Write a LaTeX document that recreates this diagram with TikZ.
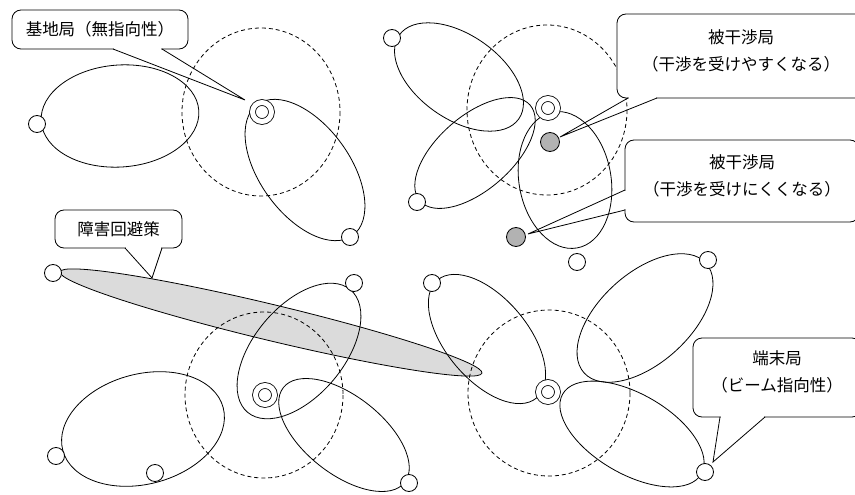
\documentclass[tikz,border=0pt]{standalone}
\usepackage{fontspec}
\newfontfamily\jpfont{Noto Sans CJK JP}
\usetikzlibrary{calc}

\begin{document}
\begin{tikzpicture}[
    x=1pt, y=-1pt,
    halo/.style={line width=0.8pt, dash pattern=on 4pt off 3pt},
    beam/.style={line width=0.8pt},
    obst/.style={line width=0.8pt, fill=black!14},
    base/.style={circle, draw, fill=white, line width=0.8pt, minimum size=19pt, inner sep=0pt, double, double distance=5pt},
    term/.style={circle, draw, fill=white, line width=0.8pt, minimum size=17pt, inner sep=0pt},
    victim/.style={term, fill=black!30, minimum size=19pt},
    callout/.style={draw, fill=white, line width=0.8pt, rounded corners=9pt, align=center, inner sep=0pt, outer sep=0pt, font=\jpfont\fontsize{16.5}{27}\selectfont},
    twoline/.style={callout, text depth=12pt},
    gap/.style={fill=white},
    ptr/.style={draw, line width=0.8pt, line join=miter}
]
\useasboundingbox (0,0) rectangle (855,495);
\clip (0,0) rectangle (855,495);

% --- obstacle (drawn first, beams run over it) ---
\draw[obst, rotate around={-13.5:(271,322.5)}] (271,322.5) ellipse [x radius=217, y radius=18];
\coordinate (obstip) at (152,278);

% --- omni coverage of the base stations ---
\draw[halo] (261,112) ellipse [x radius=79, y radius=84];
\draw[halo] (547,110) ellipse [x radius=80, y radius=85];
\draw[halo] (264,395) ellipse [x radius=79, y radius=83];
\draw[halo] (549,393) ellipse [x radius=81, y radius=83];

% --- beams, top left ---
\draw[beam, rotate around={4:(120,116)}] (120,116) ellipse [x radius=79, y radius=51];
\draw[beam, rotate around={-54:(305,170)}] (305,170) ellipse [x radius=81, y radius=45];

% --- beams, top right ---
\draw[beam, rotate around={-35:(459,77)}] (459,77) ellipse [x radius=73, y radius=42];
\draw[beam, rotate around={41:(475,153)}] (475,153) ellipse [x radius=73, y radius=37];
\draw[beam, rotate around={-80:(565,180)}] (565,180) ellipse [x radius=69, y radius=46];

% --- beams, bottom left ---
\draw[beam, rotate around={50:(299,351)}] (299,351) ellipse [x radius=80, y radius=45];
\draw[beam, rotate around={-38:(344,435)}] (344,435) ellipse [x radius=77, y radius=39];
\draw[beam, rotate around={15:(143,429)}] (143,429) ellipse [x radius=83, y radius=55];

% --- beams, bottom right ---
\draw[beam, rotate around={-50:(487,339)}] (487,339) ellipse [x radius=77, y radius=41];
\draw[beam, rotate around={42:(645,318)}] (645,318) ellipse [x radius=82, y radius=45];
\draw[beam, rotate around={-30:(632,434)}] (632,434) ellipse [x radius=80, y radius=40];

% --- base stations ---
\node[base] (bs1) at (262,112) {};
\node[base] (bs2) at (548,108) {};
\node[base] (bs3) at (265,395) {};
\node[base] (bs4) at (548,392) {};

% --- terminals ---
\node[term] (tm1)  at (37,124)  {};
\node[term] (tm2)  at (350,237) {};
\node[term] (tm3)  at (392,38)  {};
\node[term] (tm4)  at (417,202) {};
\node[term] (tm5)  at (577,262) {};
\node[term] (tm6)  at (354,283) {};
\node[term] (tm7)  at (409,483) {};
\node[term] (tm8)  at (56,456)  {};
\node[term] (tm9)  at (155,473) {};
\node[term] (tm10) at (53,273)  {};
\node[term] (tm11) at (432,283) {};
\node[term] (tm12) at (708,260) {};
\node[term] (tm13) at (705,472) {};

% --- interfered stations ---
\node[victim] (vic1) at (550,142) {};
\node[victim] (vic2) at (516,237) {};

% === callouts ===
\node[callout, minimum width=176, minimum height=39] (kichi) at (100,29.5) {基地局（無指向性）};
\node[callout, minimum width=127, minimum height=38] (shogai) at (118.5,229) {障害回避策};
\node[twoline, minimum width=248, minimum height=84] (hikan1) at (741,56) {被干渉局\\（干渉を受けやすくなる）};
\node[twoline, minimum width=234, minimum height=82] (hikan2) at (742,181) {被干渉局\\（干渉を受けにくくなる）};
\node[twoline, minimum width=168, minimum height=79] (tanmatsu) at (777,377.5) {端末局\\（ビーム指向性）};

% pointer: base station
\fill[gap] ([xshift=13.6pt,yshift=1.5pt]kichi.south) rectangle ([xshift=61.4pt,yshift=-1pt]kichi.south);
\draw[ptr] ([xshift=13pt]kichi.south) -- ([shift={(-17,-12)}]bs1.center) -- ([xshift=62pt]kichi.south);

% pointer: obstacle
\fill[gap] ([xshift=7.1pt,yshift=1.5pt]shogai.south) rectangle ([xshift=42.9pt,yshift=-1pt]shogai.south);
\draw[ptr] ([xshift=6.5pt]shogai.south) -- (obstip) -- ([xshift=43.5pt]shogai.south);

% pointer: interfered (more)
\fill[gap] ([xshift=-112.4pt,yshift=1.5pt]hikan1.south) rectangle ([xshift=-84.6pt,yshift=-1pt]hikan1.south);
\draw[ptr] ([xshift=-113pt]hikan1.south) -- ([shift={(10,-5)}]vic1.center) -- ([xshift=-84pt]hikan1.south);

% pointer: interfered (less)
\fill[gap] ([xshift=-1pt,yshift=-9.6pt]hikan2.west) rectangle ([xshift=1.5pt,yshift=-28.4pt]hikan2.west);
\draw[ptr] ([yshift=-9pt]hikan2.west) -- ([shift={(12,-3)}]vic2.center) -- ([yshift=-29pt]hikan2.west);

% pointer: terminal
\fill[gap] ([xshift=-56.4pt,yshift=1.5pt]tanmatsu.south) rectangle ([xshift=-12.6pt,yshift=-1pt]tanmatsu.south);
\draw[ptr] ([xshift=-57pt]tanmatsu.south) -- ([shift={(8,-10)}]tm13.center) -- ([xshift=-12pt]tanmatsu.south);

\end{tikzpicture}
\end{document}
